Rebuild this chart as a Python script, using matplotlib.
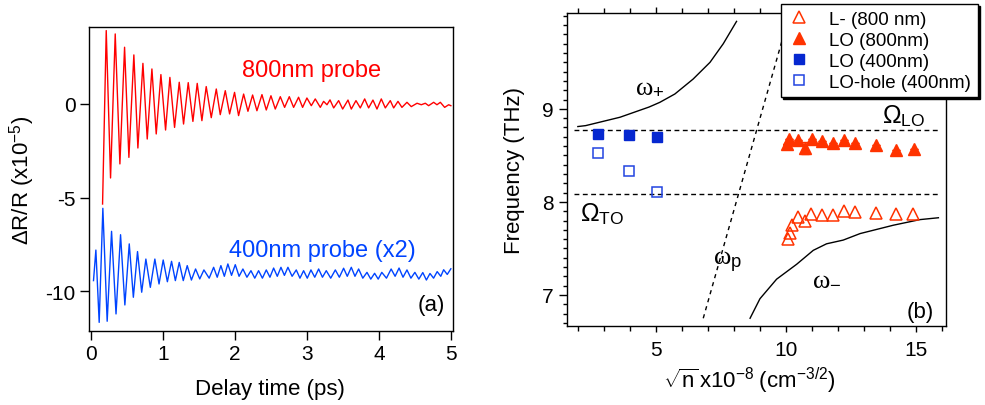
import matplotlib.pyplot as plt
from matplotlib.ticker import MultipleLocator

plt.rcParams['font.family'] = ['Liberation Sans', 'DejaVu Sans']
plt.rcParams['axes.unicode_minus'] = False
plt.rcParams['mathtext.fontset'] = 'custom'
plt.rcParams['mathtext.rm'] = 'Liberation Serif'
plt.rcParams['mathtext.sf'] = 'Liberation Sans'
plt.rcParams['mathtext.it'] = 'Liberation Serif:italic'

red_t = [0.158, 0.209, 0.269, 0.334, 0.399, 0.464, 0.524, 0.593, 0.649, 0.719,
         0.779, 0.844, 0.904, 0.969, 1.034, 1.094, 1.159, 1.224, 1.284, 1.349,
         1.414, 1.474, 1.539, 1.599, 1.669, 1.739, 1.794, 1.864, 1.924, 1.993,
         2.049, 2.119, 2.179, 2.244, 2.304, 2.374, 2.434, 2.499, 2.559, 2.629,
         2.689, 2.754, 2.814, 2.883, 2.939, 2.999, 3.06, 3.115, 3.185, 3.231,
         3.278, 3.32, 3.371, 3.44, 3.496, 3.57, 3.616, 3.681, 3.741, 3.802,
         3.857, 3.917, 3.973, 4.033, 4.089, 4.158, 4.205, 4.265, 4.32, 4.39,
         4.45, 4.53, 4.589, 4.645, 4.691, 4.761, 4.807, 4.854, 4.914, 4.97, 5.0]
red_v = [-5.34, 3.92, -3.95, 3.74, -3.20, 3.03, -2.85, 2.62, -2.35, 2.17,
         -1.87, 1.87, -1.60, 1.57, -1.39, 1.42, -1.25, 1.16, -1.07, 1.14,
         -0.93, 1.10, -0.89, 0.93, -0.73, 0.80, -0.57, 0.71, -0.53, 0.62,
         -0.62, 0.53, -0.39, 0.48, -0.36, 0.50, -0.32, 0.44, -0.27, 0.39,
         -0.18, 0.39, -0.18, 0.36, -0.18, 0.32, -0.09, 0.27, -0.18, 0.14,
         -0.04, 0.22, -0.21, 0.18, -0.27, 0.21, -0.27, 0.18, -0.21, 0.27,
         -0.21, 0.21, -0.27, 0.27, -0.21, 0.18, -0.21, 0.14, -0.18, 0.09,
         -0.14, 0.04, -0.04, 0.04, -0.09, 0.09, -0.04, 0.09, -0.18, -0.04, -0.09]

blue_t = [0.032, 0.065, 0.111, 0.162, 0.222, 0.283, 0.345, 0.408, 0.468, 0.529,
          0.586, 0.644, 0.702, 0.760, 0.822, 0.885, 0.943, 1.001, 1.059, 1.117,
          1.170, 1.224, 1.280, 1.335, 1.393, 1.451, 1.509, 1.567, 1.640, 1.702,
          1.752, 1.803, 1.851, 1.900, 1.951, 2.003, 2.056, 2.109, 2.165, 2.221,
          2.274, 2.327, 2.380, 2.434, 2.485, 2.536, 2.587, 2.638, 2.686, 2.735,
          2.793, 2.851, 2.902, 2.953, 3.004, 3.055, 3.108, 3.162, 3.215, 3.268,
          3.33, 3.394, 3.45, 3.509, 3.56, 3.616, 3.667, 3.718, 3.776, 3.834,
          3.887, 3.94, 3.99, 4.04, 4.105, 4.17, 4.225, 4.28, 4.335, 4.39,
          4.445, 4.50, 4.555, 4.61, 4.66, 4.71, 4.76, 4.81, 4.86, 4.90, 4.95, 5.0]
blue_v = [-9.43, -7.80, -11.66, -5.57, -11.60, -6.80, -11.21, -6.98, -10.73, -7.47,
          -10.32, -7.88, -10.05, -8.28, -9.79, -8.28, -9.61, -8.33, -9.49, -8.40,
          -9.43, -8.46, -9.43, -8.63, -9.40, -8.81, -9.34, -8.86, -9.30, -8.72,
          -9.25, -8.63, -9.20, -8.54, -9.15, -8.58, -9.20, -8.81, -9.25, -8.90,
          -9.30, -8.90, -9.30, -8.86, -9.25, -8.76, -9.20, -8.72, -9.15, -8.72,
          -9.20, -8.86, -9.30, -8.90, -9.30, -8.86, -9.25, -8.81, -9.25, -8.90,
          -9.30, -8.86, -9.25, -8.77, -9.20, -8.72, -9.20, -8.81, -9.30, -8.99,
          -9.35, -9.04, -9.35, -8.99, -9.30, -8.81, -9.20, -8.76, -9.25, -8.86,
          -9.30, -8.99, -9.35, -9.00, -9.40, -9.05, -9.30, -8.95, -9.20, -8.85, -9.10, -8.80]

# (b) frequencies vs sqrt(n)
lminus_x = [10.09, 10.15, 10.25, 10.47, 10.73, 10.98, 11.39, 11.82, 12.23, 12.65, 13.46, 14.22, 14.90]
lminus_y = [7.60, 7.67, 7.75, 7.84, 7.80, 7.87, 7.86, 7.86, 7.90, 7.89, 7.88, 7.87, 7.87]
lo800_x = [10.03, 10.13, 10.47, 10.73, 10.99, 11.40, 11.82, 12.24, 12.65, 13.46, 14.22, 14.92]
lo800_y = [8.62, 8.68, 8.67, 8.58, 8.68, 8.66, 8.63, 8.67, 8.63, 8.61, 8.56, 8.57]
lo800_err = [0, 0, 0, 0.06, 0, 0, 0, 0, 0, 0, 0, 0]
lo400_x = [2.78, 3.97, 5.05]
lo400_y = [8.73, 8.72, 8.70]
hole400_x = [2.78, 3.97, 5.05]
hole400_y = [8.53, 8.33, 8.11]

wplus_x = [2.0, 2.3, 3.62, 4.74, 5.15, 5.73, 6.43, 7.08, 7.59, 8.10]
wplus_y = [8.81, 8.82, 8.91, 9.02, 9.07, 9.16, 9.32, 9.50, 9.70, 9.94]
wminus_x = [8.62, 9.0, 9.64, 10.41, 11.05, 11.56, 12.2, 12.85, 14.13, 15.15, 15.86]
wminus_y = [6.75, 6.96, 7.17, 7.33, 7.48, 7.55, 7.59, 7.66, 7.75, 7.81, 7.83]
wp_x = [6.82, 10.15]
wp_y = [6.75, 10.03]
omega_lo = 8.774
omega_to = 8.08

red = '#ff0000'
blue = '#0044ff'
orange = '#ff3300'
navy = '#0628d0'

fig = plt.figure(figsize=(9.85, 4.06), dpi=100)

# ---- panel (a)
ax1 = fig.add_axes([0.0904, 0.1823, 0.3695, 0.7487])
ax1.plot(red_t, red_v, color=red, lw=1.0)
ax1.plot(blue_t, blue_v, color=blue, lw=1.0)
ax1.set_xlim(-0.03, 5.03)
ax1.set_ylim(-12.12, 4.11)
ax1.set_xticks([0, 1, 2, 3, 4, 5])
ax1.set_yticks([-10, -5, 0])
ax1.tick_params(direction='out', length=6.5, width=1, labelsize=15, pad=3)
for s in ax1.spines.values():
    s.set_linewidth(1)
ax1.text(2.096, 1.48, '800nm probe', color=red, fontsize=17, va='baseline')
ax1.text(1.91, -8.13, '400nm probe (x2)', color=blue, fontsize=17, va='baseline')
ax1.text(4.92, -10.73, '(a)', fontsize=16, ha='right', va='center')
ax1.set_xlabel('Delay time (ps)', fontsize=16)
ax1.set_ylabel(r'ΔR/R (x10$^{\mathsf{-5}}$)', fontsize=16)
ax1.xaxis.set_label_coords(0.497, -0.155)
ax1.yaxis.set_label_coords(-0.143, 0.5)

# ---- panel (b)
ax2 = fig.add_axes([0.5753, 0.1953, 0.3848, 0.7702])
ax2.axhline(omega_lo, xmin=0.02, xmax=0.985, color='k', lw=1, ls=(0, (3.5, 2.5)))
ax2.axhline(omega_to, xmin=0.02, xmax=0.985, color='k', lw=1, ls=(0, (3.5, 2.5)))
ax2.plot(wplus_x, wplus_y, color='k', lw=1)
ax2.plot(wminus_x, wminus_y, color='k', lw=1)
ax2.plot(wp_x, wp_y, color='k', lw=1, ls=(0, (3, 3)))

h1, = ax2.plot(lminus_x, lminus_y, ls='none', marker='^', ms=8, mfc='none', mec=orange, mew=1.1,
               label='L- (800 nm)')
ax2.errorbar(lo800_x, lo800_y, yerr=lo800_err, ls='none', ecolor=orange, elinewidth=1, capsize=3)
h2, = ax2.plot(lo800_x, lo800_y, ls='none', marker='^', ms=8, color=orange, label='LO (800nm)')
h3, = ax2.plot(lo400_x, lo400_y, ls='none', marker='s', ms=7, color=navy, label='LO (400nm)')
h4, = ax2.plot(hole400_x, hole400_y, ls='none', marker='s', ms=7, mfc='none', mec='#2244e0', mew=1.1,
               label='LO-hole (400nm)')

ax2.set_xlim(1.57, 16.14)
ax2.set_ylim(6.67, 10.03)
ax2.set_xticks([5, 10, 15])
ax2.set_yticks([7, 8, 9])
ax2.xaxis.set_minor_locator(MultipleLocator(1))
ax2.yaxis.set_minor_locator(MultipleLocator(0.1))
ax2.tick_params(axis='x', which='both', direction='out', top=True, labelsize=15, pad=6)
ax2.tick_params(axis='x', which='major', length=4.5, width=1)
ax2.tick_params(axis='x', which='minor', length=3.5, width=1)
ax2.tick_params(axis='y', which='major', length=5.5, width=1, labelsize=15, pad=4)
ax2.tick_params(axis='y', which='minor', length=3, width=1)
for s in ax2.spines.values():
    s.set_linewidth(1)

ax2.text(4.19, 9.18, r'$\mathrm{\omega}_{\mathsf{+}}$', fontsize=19, va='baseline')
ax2.text(13.68, 8.857, r'$\mathsf{\Omega}_{\mathsf{LO}}$', fontsize=18, va='baseline')
ax2.text(2.10, 7.80, r'$\mathsf{\Omega}_{\mathsf{TO}}$', fontsize=18, va='baseline')
ax2.text(7.18, 7.33, r'$\mathrm{\omega}_{\mathsf{p}}$', fontsize=19, va='baseline')
ax2.text(10.99, 7.12, r'$\mathrm{\omega}_{\mathsf{-}}$', fontsize=19, va='baseline')
ax2.text(15.67, 6.82, '(b)', fontsize=16, ha='right', va='center')

ax2.set_ylabel('Frequency (THz)', fontsize=16)
ax2.set_xlabel(r'$\sqrt{\mathsf{n}}\,\mathsf{x10^{-8}\ (cm^{-3/2})}$', fontsize=16)
ax2.xaxis.set_label_coords(0.481, -0.125)
ax2.yaxis.set_label_coords(-0.11, 0.5)

leg = ax2.legend(handles=[h1, h2, h3, h4], loc='upper right', bbox_to_anchor=(0.9925, 0.987),
                 bbox_transform=fig.transFigure, fontsize=13.5, frameon=True, fancybox=False,
                 framealpha=1, edgecolor='k', handlelength=1.2, handletextpad=1.0,
                 labelspacing=0.2, borderpad=0.35, borderaxespad=0,
                 shadow={'color': 'k', 'alpha': 1, 'ox': 1.5, 'oy': -1.5})
leg.get_frame().set_linewidth(1)

fig.savefig('out.png', dpi=100)
